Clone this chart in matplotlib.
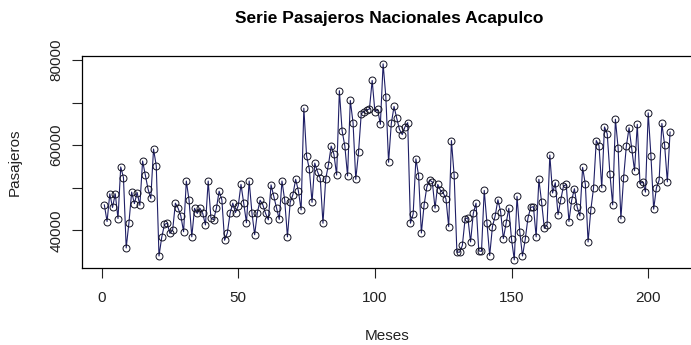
import numpy as np
import matplotlib
matplotlib.use("Agg")
import matplotlib.pyplot as plt

# monthly domestic passengers, Acapulco airport
pasajeros = [
    46000, 42100, 48600, 45400, 48600, 42800, 54900, 52400, 35900, 41800,
    49000, 46300, 48900, 45900, 56300, 53000, 49700, 47500, 59100, 55200,
    34000, 38400, 41400, 41700, 39300, 40100, 46400, 45200, 43400, 39700,
    51600, 47100, 38500, 45200, 44000, 45200, 44000, 41300, 51600, 42900,
    42500, 45200, 49200, 47200, 37700, 39400, 44000, 46400, 44200,
    45800, 50800, 46400, 41800, 51600, 44200, 39000, 44200, 47100, 46000,
    44000, 42500, 50700, 48000, 45200, 42600, 51600, 47100, 38500, 46600,
    48400, 52000, 49300, 44800, 68700, 57500, 54400,
    46600, 55800, 53800, 52200, 41700, 52100, 55400, 59800, 57900, 53000,
    72800, 63400, 59800, 52800, 70500, 65300, 52000, 58300, 67400, 67900,
    68300, 68500, 75200, 67900, 68400, 64900, 79100, 71400, 56000,
    65100, 69100, 66300, 63700, 62500, 64300, 65300, 41700, 43900, 56800,
    52800, 39400, 46000, 50200, 51800, 51400, 45200, 50800, 49400, 48800,
    47400, 40900, 61100, 52900, 34900, 34900, 36500, 42700,
    43000, 37300, 44000, 46400, 35200, 35100, 49400, 41700, 34100, 40900,
    43400, 47200, 44400, 38100, 41700, 45200, 37900, 33100, 48000, 39700,
    34000, 37900, 42900, 45400, 45600, 38500, 52000,
    46600, 40500, 41300, 57700, 48800, 51200, 43700, 47200, 50400, 50800,
    42100, 47100, 49800, 45500, 43400, 54800, 50800, 37300, 44800, 50000,
    61100, 59900, 50000, 64300, 62700, 53200, 46000,
    66100, 59300, 42700, 52400, 59800, 64100, 59100, 54000, 64900, 51000,
    51400, 49000, 67600, 57500, 45000, 50000, 51800, 65100, 60100, 51400,
    63100,
]
meses = np.arange(1, len(pasajeros) + 1)

plt.rcParams["font.family"] = ["Liberation Sans", "DejaVu Sans"]

fig = plt.figure(figsize=(6.91, 3.45), dpi=100)
ax = fig.add_axes([81.7 / 691, 1 - 267.7 / 345, 611 / 691, 211.7 / 345])

ax.plot(meses, pasajeros, color="#1f1f66", lw=0.8, zorder=2)
ax.plot(meses, pasajeros, "o", mfc="none", mec="#111122", ms=5, mew=0.7, zorder=3)

# R style 4% padding on both axes
n = len(pasajeros)
ax.set_xlim(1 - 0.04 * (n - 1), n + 0.04 * (n - 1))
lo, hi = min(pasajeros), max(pasajeros)
pad = 0.04 * (hi - lo)
ax.set_ylim(lo - pad, hi + pad)

ax.set_xticks([0, 50, 100, 150, 200])
ax.set_yticks([40000, 50000, 60000, 70000, 80000])
ax.set_yticklabels(["40000", "", "60000", "", "80000"], rotation=90, va="center")
ax.tick_params(direction="out", length=7, width=0.8, labelsize=11, colors="#222222", pad=5)
ax.tick_params(axis="x", pad=10)
ax.tick_params(axis="y", pad=6)
for s in ax.spines.values():
    s.set_linewidth(0.9)

ax.set_xlabel("Meses", fontsize=11, labelpad=17, color="#222222")
ax.set_ylabel("Pasajeros", fontsize=11, labelpad=20, color="#222222")
fig.text(0.563, 0.945, "Serie Pasajeros Nacionales Acapulco", ha="center", va="center",
         fontsize=12.5, fontweight="bold")

fig.savefig("out.png", dpi=100)
